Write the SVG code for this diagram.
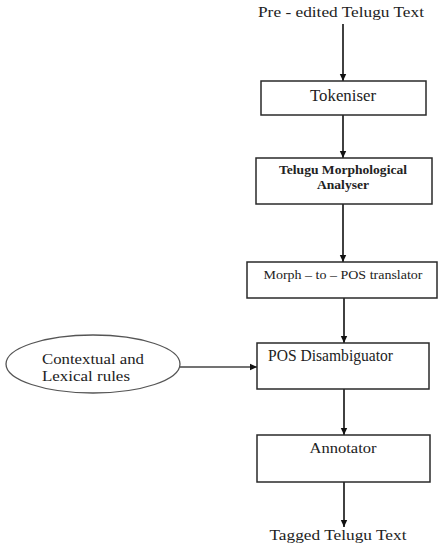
<svg xmlns="http://www.w3.org/2000/svg" width="438" height="548" viewBox="0 0 438 548">
<style>
  .box { fill: #ffffff; stroke: #2a2a2a; stroke-width: 1.5; }
  .ell { fill: #ffffff; stroke: #555555; stroke-width: 1.3; }
  .edge { fill: none; stroke: #111111; stroke-width: 1.6; }
  .t { font-family: "Liberation Serif", "Times New Roman", serif; fill: #222222; }
  .c { text-anchor: middle; }
</style>
<defs>
  <marker id="ah" markerWidth="8" markerHeight="8" refX="7" refY="4" orient="auto" markerUnits="userSpaceOnUse">
    <path d="M0,0.8 L7,4 L0,7.2 Z" fill="#111111"/>
  </marker>
</defs>
<rect width="438" height="548" fill="#ffffff"/>

<g id="connectors">
  <line class="edge" x1="343" y1="24" x2="343" y2="81" marker-end="url(#ah)"/>
  <line class="edge" x1="343" y1="115" x2="343" y2="158" marker-end="url(#ah)"/>
  <line class="edge" x1="343" y1="204" x2="343" y2="262" marker-end="url(#ah)"/>
  <line class="edge" x1="344" y1="298" x2="344" y2="343" marker-end="url(#ah)"/>
  <line class="edge" x1="180" y1="367" x2="257" y2="367" marker-end="url(#ah)" style="stroke:#444;stroke-width:1.3"/>
  <line class="edge" x1="344" y1="389" x2="344" y2="435" marker-end="url(#ah)"/>
  <line class="edge" x1="344" y1="482" x2="344" y2="527" marker-end="url(#ah)"/>
</g>

<g id="source">
  <text class="t c" x="341" y="17" font-size="15" textLength="166" lengthAdjust="spacingAndGlyphs">Pre - edited Telugu Text</text>
</g>

<g id="tokeniser">
  <rect class="box" x="261" y="81" width="165" height="34"/>
  <text class="t c" x="343" y="101" font-size="16" textLength="66" lengthAdjust="spacingAndGlyphs">Tokeniser</text>
</g>

<g id="morph-analyser">
  <rect class="box" x="256" y="158" width="176" height="46"/>
  <text class="t c" x="343" y="174" font-size="12.5" font-weight="bold" textLength="128" lengthAdjust="spacingAndGlyphs">Telugu Morphological</text>
  <text class="t c" x="343" y="189" font-size="12.5" font-weight="bold" textLength="52" lengthAdjust="spacingAndGlyphs">Analyser</text>
</g>

<g id="morph-to-pos">
  <rect class="box" x="247" y="262" width="190" height="36"/>
  <text class="t c" x="343" y="279" font-size="12.5" textLength="159" lengthAdjust="spacingAndGlyphs">Morph – to – POS translator</text>
</g>

<g id="rules">
  <ellipse class="ell" cx="93" cy="364" rx="87" ry="29"/>
  <text class="t" x="42" y="364" font-size="15" textLength="102" lengthAdjust="spacingAndGlyphs">Contextual and</text>
  <text class="t" x="42" y="381" font-size="15" textLength="88" lengthAdjust="spacingAndGlyphs">Lexical rules</text>
</g>

<g id="pos-disambiguator">
  <rect class="box" x="257" y="343" width="172" height="46"/>
  <text class="t" x="268" y="361" font-size="16" textLength="125" lengthAdjust="spacingAndGlyphs">POS Disambiguator</text>
</g>

<g id="annotator">
  <rect class="box" x="257" y="435" width="173" height="47"/>
  <text class="t c" x="343" y="453" font-size="15" textLength="67" lengthAdjust="spacingAndGlyphs">Annotator</text>
</g>

<g id="output">
  <text class="t c" x="338" y="540" font-size="15" textLength="137" lengthAdjust="spacingAndGlyphs">Tagged Telugu Text</text>
</g>
</svg>
